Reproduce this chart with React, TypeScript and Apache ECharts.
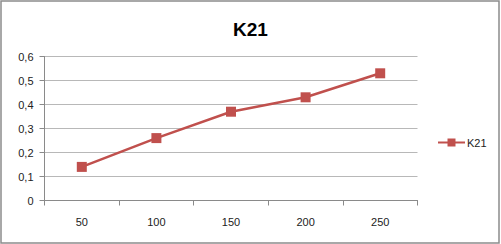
import React, { useEffect, useRef } from "react";
import * as echarts from "echarts";

const categories = ["50", "100", "150", "200", "250"];
const seriesName = "K21";
const values = [0.14, 0.26, 0.37, 0.43, 0.53];
const yTicks = [0, 0.1, 0.2, 0.3, 0.4, 0.5, 0.6];

export default function App() {
  const ref = useRef<HTMLDivElement>(null);
  useEffect(() => {
    document.body.style.margin = "0";
    const chart = echarts.init(ref.current!, null, { renderer: "svg" });
    const font = "'Liberation Sans', Arial, sans-serif";
    chart.setOption({
      animation: false,
      backgroundColor: "#ffffff",
      title: {
        text: "K21",
        left: "center",
        top: 15,
        textStyle: { fontFamily: font, fontSize: 19, fontWeight: "bold", color: "#000" },
      },
      graphic: [
        {
          type: "rect",
          shape: { x: 1, y: 1, width: 498, height: 242 },
          style: { fill: "none", stroke: "#8c8c8c", lineWidth: 1.5 },
          silent: true,
        },
      ],
      legend: {
        data: [seriesName],
        left: 437,
        top: 137,
        padding: 0,
        itemWidth: 27,
        itemHeight: 10,
        itemGap: 4,
        textStyle: { fontFamily: font, fontSize: 11, color: "#222", padding: [0, 0, 0, -3] },
      },
      grid: { left: 44.5, top: 56.5, width: 373, height: 144, containLabel: false },
      xAxis: {
        type: "category",
        data: categories,
        boundaryGap: true,
        axisLine: { lineStyle: { color: "#8a8a8a", width: 1 } },
        axisTick: { show: true, length: 5, lineStyle: { color: "#8a8a8a" } },
        axisLabel: { fontFamily: font, fontSize: 11, color: "#222", margin: 16 },
      },
      yAxis: {
        type: "value",
        min: yTicks[0],
        max: yTicks[yTicks.length - 1],
        interval: 0.1,
        axisLine: { show: true, lineStyle: { color: "#8a8a8a", width: 1 } },
        axisTick: { show: true, length: 5, lineStyle: { color: "#8a8a8a" } },
        splitLine: { lineStyle: { color: "#b8b8b8", width: 1 } },
        axisLabel: {
          fontFamily: font,
          fontSize: 11,
          color: "#222",
          margin: 11,
          formatter: (v: number) => String(Math.round(v * 10) / 10).replace(".", ","),
        },
      },
      series: [
        {
          name: seriesName,
          type: "line",
          data: values,
          symbol: "rect",
          symbolSize: 10,
          lineStyle: { color: "#C0504D", width: 2.5 },
          itemStyle: { color: "#C0504D" },
        },
      ],
    });
    return () => chart.dispose();
  }, []);
  return <div ref={ref} style={{ width: 501, height: 244 }} />;
}
